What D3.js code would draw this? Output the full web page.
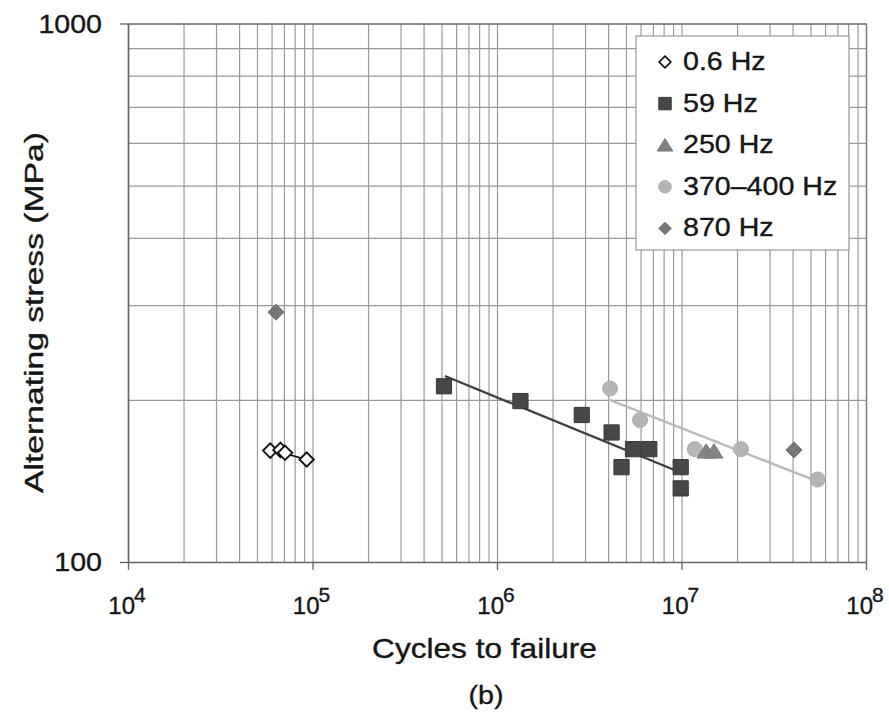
<!DOCTYPE html>
<html>
<head>
<meta charset="utf-8">
<script src="https://cdn.jsdelivr.net/npm/d3@7/dist/d3.min.js"></script>
<style>
  html, body { margin: 0; padding: 0; background: #fff; }
  svg { display: block; font-family: "Liberation Sans", Arial, sans-serif; }
  text { stroke: #151515; stroke-width: 0.35px; }
</style>
</head>
<body>
<svg id="chart" width="889" height="717"></svg>
<script>
// ---------- data ----------
const cycles06 = [5.9e4, 6.7e4, 7.1e4, 9.3e4];
const stress06 = [161, 161.5, 159.5, 155];

const cycles59 = [5.16e5, 1.34e6, 2.88e6, 4.18e6, 5.46e6, 6.69e6, 4.73e6, 9.9e6, 9.9e6];
const stress59 = [212, 199, 187.5, 174, 162, 162, 150, 150, 137];

const cycles250 = [1.36e7, 1.5e7];
const stress250 = [160.5, 160.5];

const cycles370 = [4.1e6, 5.96e6, 1.18e7, 2.1e7, 5.46e7];
const stress370 = [210, 183.5, 162, 162, 142.3];

const cycles870 = [6.34e4, 4.07e7];
const stress870 = [291, 161.5];

// trend lines (end points)
const trend06Cycles = [6.2e4, 9.3e4];
const trend06Stress = [161, 155];
const trend59Cycles = [5.22e5, 1.02e7];
const trend59Stress = [221.5, 146];
const trend370Cycles = [4.01e6, 5.5e7];
const trend370Stress = [200.5, 141];

const xDomain = [1e4, 1e8];
const yDomain = [100, 1000];
const xMajorTicks = [1e4, 1e5, 1e6, 1e7, 1e8];
const xTickExponents = ["4", "5", "6", "7", "8"];
const yMajorTicks = [100, 1000];
const yTickLabels = ["100", "1000"];
const legendLabels = ["0.6 Hz", "59 Hz", "250 Hz", "370\u2013400 Hz", "870 Hz"];
const xTitle = "Cycles to failure";
const yTitle = "Alternating stress (MPa)";
const caption = "(b)";

// ---------- layout ----------
const svg = d3.select("#chart");
const L = 128, R = 866, T = 23.5, B = 562;
const x = d3.scaleLog().domain(xDomain).range([L, R]);
const y = d3.scaleLog().domain(yDomain).range([B, T]);
const SX = 1.1; // horizontal glyph stretch seen in picture

// minor grid values
const xGrid = [];
for (let e = 4; e < 8; e++) for (let m = 1; m < 10; m++) xGrid.push(m * Math.pow(10, e));
xGrid.push(1e8);
const yGrid = [];
for (let m = 1; m <= 10; m++) yGrid.push(m * 100);

const gridColor = "#999999";

// vertical grid
svg.append("g")
  .attr("transform", `translate(0,${B})`)
  .call(d3.axisBottom(x).tickValues(xGrid).tickSize(-(B - T)).tickFormat(""))
  .call(g => g.select(".domain").remove())
  .call(g => g.selectAll("line").attr("stroke", gridColor).attr("stroke-width", 1.2));

// horizontal grid
svg.append("g")
  .attr("transform", `translate(${L},0)`)
  .call(d3.axisLeft(y).tickValues(yGrid).tickSize(-(R - L)).tickFormat(""))
  .call(g => g.select(".domain").remove())
  .call(g => g.selectAll("line").attr("stroke", gridColor).attr("stroke-width", 1.2));

// axes lines + major ticks
svg.append("g")
  .attr("transform", `translate(0,${B})`)
  .call(d3.axisBottom(x).tickValues(xMajorTicks).tickSize(8).tickSizeOuter(0).tickFormat(""))
  .call(g => g.select(".domain").attr("stroke", "#666").attr("stroke-width", 1.6))
  .call(g => g.selectAll("line").attr("stroke", "#666").attr("stroke-width", 1.3));

svg.append("g")
  .attr("transform", `translate(${L},0)`)
  .call(d3.axisLeft(y).tickValues(yMajorTicks).tickSize(8).tickSizeOuter(0).tickFormat(""))
  .call(g => g.select(".domain").attr("stroke", "#666").attr("stroke-width", 1.6))
  .call(g => g.selectAll("line").attr("stroke", "#666").attr("stroke-width", 1.3));

// top & right border
svg.append("g")
  .attr("transform", `translate(0,${T})`)
  .call(d3.axisTop(x).tickValues([]).tickSizeOuter(0))
  .call(g => g.select(".domain").attr("stroke", "#777").attr("stroke-width", 1.3));
svg.append("g")
  .attr("transform", `translate(${R},0)`)
  .call(d3.axisRight(y).tickValues([]).tickSizeOuter(0))
  .call(g => g.select(".domain").attr("stroke", "#777").attr("stroke-width", 1.3));

// ---------- text helper ----------
function addText(px, py, str, size, anchor, sx) {
  const g = svg.append("g").attr("transform", `translate(${px},${py}) scale(${sx},1)`);
  return g.append("text").attr("text-anchor", anchor).attr("font-size", size)
    .attr("fill", "#151515").text(str);
}

// y tick labels
yMajorTicks.forEach((v, i) => addText(102, y(v) + 9, yTickLabels[i], 26, "end", SX));

// x tick labels 10^n
xMajorTicks.forEach((v, i) => {
  const g = svg.append("g").attr("transform", `translate(${x(v) - 1},614)`);
  const t = g.append("text").attr("text-anchor", "middle").attr("fill", "#151515");
  t.append("tspan").attr("font-size", 24).text("10");
  t.append("tspan").attr("font-size", 21).attr("dx", -1).attr("dy", -12).text(xTickExponents[i]);
});

// axis titles
(function () {
  const g = svg.append("g").attr("transform", `translate(484.5,658)`);
  const t = g.append("text").attr("text-anchor", "middle").attr("font-size", 27)
    .attr("fill", "#151515").text(xTitle);
  const w = t.node().getComputedTextLength();
  g.attr("transform", `translate(484.5,658) scale(${225 / w},1)`);
})();
(function () {
  const g = svg.append("g").attr("transform", `translate(43,312.5) rotate(-90)`);
  const t = g.append("text").attr("text-anchor", "middle").attr("font-size", 26)
    .attr("fill", "#151515").text(yTitle);
  const w = t.node().getComputedTextLength();
  g.attr("transform", `translate(43,312.5) rotate(-90) scale(${361 / w},1)`);
})();
addText(486, 704, caption, 26, "middle", SX);

// ---------- trend lines ----------
const line = d3.line().x(d => x(d[0])).y(d => y(d[1]));
function trend(cs, ss, color, width) {
  svg.append("path").datum(cs.map((c, i) => [c, ss[i]]))
    .attr("d", line).attr("fill", "none").attr("stroke", color).attr("stroke-width", width);
}
trend(trend370Cycles, trend370Stress, "#b9b9b9", 2.4);
trend(trend59Cycles, trend59Stress, "#3e3e3e", 2.3);
trend(trend06Cycles, trend06Stress, "#111", 1.6);

// ---------- markers ----------
const shapes = {
  diamond: r => `M0,${-r}L${r},0L0,${r}L${-r},0Z`,
  square: r => `M${-r},${-r}H${r}V${r}H${-r}Z`,
  triangle: r => `M0,${-r * 0.85}L${r},${r * 0.75}L${-r},${r * 0.75}Z`,
  circle: r => d3.arc()({ innerRadius: 0, outerRadius: r, startAngle: 0, endAngle: 2 * Math.PI })
};
const styles = [
  { shape: "diamond", r: 7.2, fill: "#ffffff", stroke: "#111", sw: 1.9 },
  { shape: "square", r: 7.6, fill: "#474747", stroke: "#383838", sw: 1 },
  { shape: "triangle", r: 9, fill: "#838383", stroke: "#7a7a7a", sw: 1 },
  { shape: "circle", r: 7.6, fill: "#b5b5b5", stroke: "#aaaaaa", sw: 0.8 },
  { shape: "diamond", r: 8, fill: "#777777", stroke: "#6a6a6a", sw: 1 }
];
const series = [
  [cycles06, stress06], [cycles59, stress59], [cycles250, stress250],
  [cycles370, stress370], [cycles870, stress870]
];
const drawOrder = [3, 2, 1, 4, 0];
drawOrder.forEach(si => {
  const st = styles[si];
  const [cs, ss] = series[si];
  svg.append("g").selectAll("path").data(cs.map((c, i) => [c, ss[i]])).join("path")
    .attr("transform", d => `translate(${x(d[0])},${y(d[1])})`)
    .attr("d", shapes[st.shape](st.r))
    .attr("fill", st.fill).attr("stroke", st.stroke).attr("stroke-width", st.sw);
});

// ---------- legend ----------
const lg = svg.append("g");
lg.append("rect").attr("x", 636).attr("y", 36).attr("width", 213).attr("height", 214)
  .attr("fill", "#fff").attr("stroke", "#999").attr("stroke-width", 1.2);
legendLabels.forEach((lab, i) => {
  const base = 70 + i * 41.6;
  const st = styles[i];
  const rr = st.shape === "diamond" && i === 0 ? 5.8 : (st.shape === "triangle" ? 7.8 : 6.2);
  lg.append("path").attr("transform", `translate(665,${base - 8})`)
    .attr("d", shapes[st.shape](rr))
    .attr("fill", st.fill).attr("stroke", st.stroke).attr("stroke-width", i === 0 ? 1.7 : 1);
  const g = lg.append("g").attr("transform", `translate(683,${base}) scale(${SX},1)`);
  g.append("text").attr("font-size", 26).attr("fill", "#151515").text(lab);
});
</script>
</body>
</html>
